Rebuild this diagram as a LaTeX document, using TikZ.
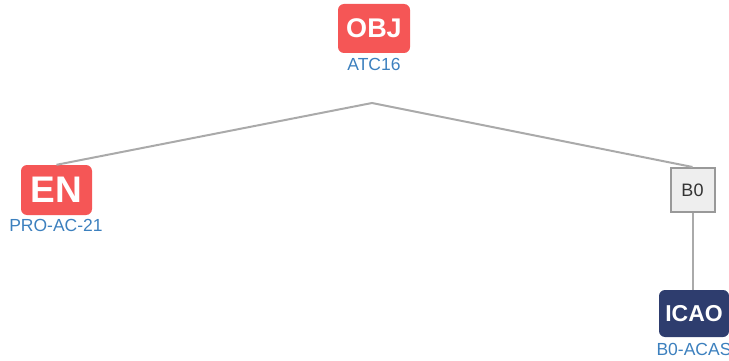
\documentclass[tikz,border=0pt]{standalone}
\usepackage{fontspec}
\setmainfont{Liberation Sans}
\definecolor{redbox}{HTML}{F55656}
\definecolor{navybox}{HTML}{2E3D6E}
\definecolor{lblblue}{HTML}{3C80BE}
\definecolor{linegray}{HTML}{AAAAAA}
\definecolor{grayfill}{HTML}{EEEEEE}
\definecolor{grayborder}{HTML}{999999}
\tikzset{
  badge/.style={rounded corners=6pt, inner sep=0pt, text=white, font=\bfseries},
  lbl/.style={text=lblblue, inner sep=0pt, font=\fontsize{17.5}{19}\selectfont},
  conn/.style={draw=linegray, line width=2pt},
  grp/.style={draw=grayborder, fill=grayfill, line width=2pt, minimum width=44pt, minimum height=44pt, inner sep=0pt, text=black!80, font=\fontsize{18}{20}\selectfont},
}
\begin{document}
\begin{tikzpicture}[x=1pt,y=-1pt]
\useasboundingbox (0,0) rectangle (729,361);
\node[badge, fill=redbox, minimum width=72pt, minimum height=49pt, font=\bfseries\fontsize{27}{29}\selectfont] (obj) at (374,28.5) {OBJ};
\node[lbl] (objl) at (374,64) {ATC16};
\coordinate (j) at (372,103);
\node[badge, fill=redbox, minimum width=71pt, minimum height=50pt, font=\bfseries\fontsize{37}{39}\selectfont] (en) at (56.5,190) {EN};
\node[lbl] (enl) at (56,225.5) {PRO-AC-21};
\node[grp] (b0) at (692.5,190) {B0};
\node[badge, fill=navybox, minimum width=70pt, minimum height=47pt, font=\bfseries\fontsize{23}{25}\selectfont] (icao) at (694,313.5) {ICAO};
\node[lbl] (icaol) at (694,349) {B0-ACAS};
\draw[conn] (en.north) -- (j) -- (b0.north);
\draw[conn] (b0.south) -- (b0.south |- icao.north);
\end{tikzpicture}
\end{document}
